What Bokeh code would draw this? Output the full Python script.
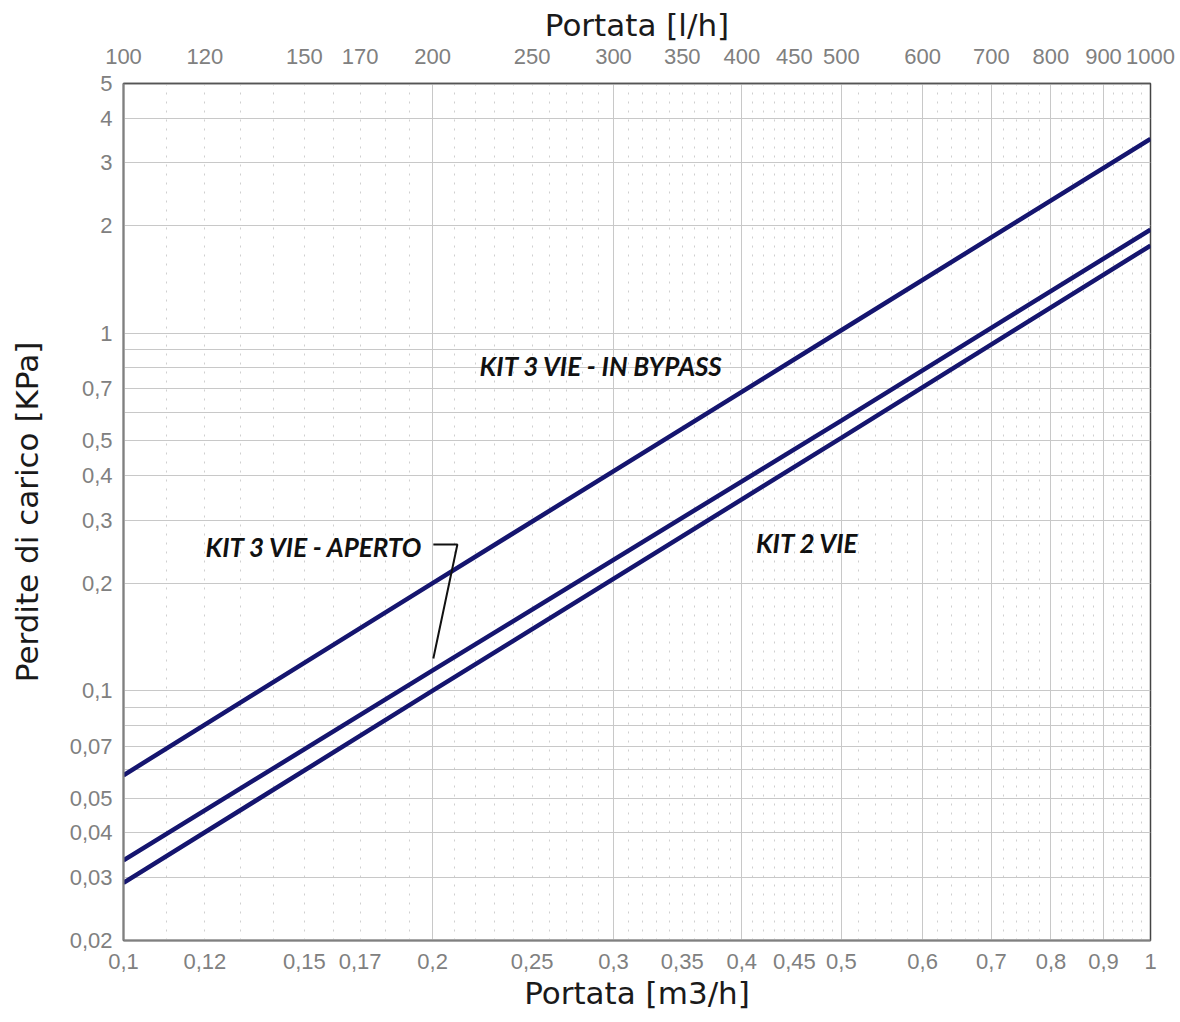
import numpy as np
from bokeh.plotting import figure
from bokeh.models import (LogAxis, FixedTicker, CustomJSTickFormatter, Range1d,
                          LogScale, Label)
from bokeh.embed import file_html
from bokeh.resources import INLINE

# ---- data ----
flow_m3h = [0.1, 0.2, 0.5, 1.0]
kit3_bypass = [0.058, 0.2, 1.02, 3.5]
kit3_aperto = [0.0335, 0.114, 0.57, 1.95]
kit2_vie = [0.029, 0.1, 0.51, 1.76]

x_ticks = [0.1, 0.12, 0.15, 0.17, 0.2, 0.25, 0.3, 0.35, 0.4, 0.45, 0.5,
           0.6, 0.7, 0.8, 0.9, 1]
top_ticks = [100, 120, 150, 170, 200, 250, 300, 350, 400, 450, 500,
             600, 700, 800, 900, 1000]
y_ticks = [0.02, 0.03, 0.04, 0.05, 0.07, 0.1, 0.2, 0.3, 0.4, 0.5, 0.7,
           1, 2, 3, 4, 5]

# grid positions
x_grid_major = [round(v, 2) for v in np.arange(0.2, 0.95, 0.1)]
x_grid_minor = [round(v, 2) for v in np.arange(0.11, 0.495, 0.01)
                if round(v * 100) % 10 != 0] + \
               [round(v, 2) for v in np.arange(0.52, 0.99, 0.02)
                if round(v * 100) % 10 != 0]
y_grid = [round(v, 3) for v in np.arange(0.02, 0.095, 0.01)] + \
         [round(v, 2) for v in np.arange(0.1, 0.95, 0.1)] + \
         [1, 2, 3, 4, 5]

TICK_FONT = "Liberation Sans"
TITLE_FONT = "DejaVu Sans"
LINE_COLOR = "#15156f"

p = figure(x_axis_type="log", y_axis_type="log",
           x_range=Range1d(0.1, 1), y_range=Range1d(0.02, 5),
           frame_width=1027, frame_height=857,
           min_border_left=123, min_border_right=28,
           min_border_top=83, min_border_bottom=80,
           output_backend="svg", toolbar_location=None,
           background_fill_color="white", border_fill_color="white")

bottom = p.below[0]
left = p.left[0]

p.extra_x_ranges = {"lh": Range1d(100, 1000)}
p.extra_x_scales = {"lh": LogScale()}
top = LogAxis(x_range_name="lh", axis_label="Portata [l/h]")
p.add_layout(top, "above")

fmt = "return tick.toString().replace('.', ',');"

bottom.ticker = FixedTicker(ticks=x_ticks)
top.ticker = FixedTicker(ticks=top_ticks)
left.ticker = FixedTicker(ticks=y_ticks)
bottom.axis_label = "Portata [m3/h]"
left.axis_label = "Perdite di carico [KPa]"

for ax in (bottom, top, left):
    ax.formatter = CustomJSTickFormatter(code=fmt)
    ax.major_tick_line_color = None
    ax.minor_tick_line_color = None
    ax.major_tick_out = 0
    ax.major_tick_in = 0
    ax.minor_tick_out = 0
    ax.minor_tick_in = 0
    ax.major_label_text_font = TICK_FONT
    ax.major_label_text_font_size = "22px"
    ax.major_label_text_color = "#808080"
    ax.axis_label_text_font = TITLE_FONT
    ax.axis_label_text_font_style = "normal"
    ax.axis_label_text_font_size = "31px"
    ax.axis_label_text_color = "#1a1a1a"

bottom.axis_line_color = "#808080"
bottom.axis_line_width = 2
left.axis_line_color = "#808080"
left.axis_line_width = 2
top.axis_line_color = "#555555"
top.axis_line_width = 1.5

bottom.major_label_standoff = 13
bottom.axis_label_standoff = 3
top.major_label_standoff = 20
top.axis_label_standoff = 3
left.major_label_standoff = 11
left.axis_label_standoff = 22

p.outline_line_color = "#444444"
p.outline_line_width = 1.5

p.xgrid.ticker = FixedTicker(ticks=x_grid_major, minor_ticks=x_grid_minor)
p.xgrid.grid_line_color = "#c8c8c8"
p.xgrid.grid_line_width = 1
p.xgrid.minor_grid_line_color = "#cfcfcf"
p.xgrid.minor_grid_line_dash = "2 7"
p.xgrid.minor_grid_line_width = 1
p.ygrid.ticker = FixedTicker(ticks=y_grid)
p.ygrid.grid_line_color = "#c8c8c8"
p.ygrid.grid_line_width = 1

for series in (kit3_bypass, kit3_aperto, kit2_vie):
    p.line(flow_m3h, series, line_color=LINE_COLOR, line_width=4.5)

# leader line for the "aperto" label
p.line([0.2003, 0.2114, 0.2003], [0.2565, 0.2565, 0.123],
       line_color="#111111", line_width=2)

ann_style = dict(text_font="Lato", text_font_style="bold italic",
                 text_font_size="26px", text_color="#111111",
                 text_align="center", text_baseline="middle")
p.add_layout(Label(x=0.292, y=0.812, text="KIT 3 VIE - IN BYPASS", **ann_style))
p.add_layout(Label(x=0.1535, y=0.2532, text="KIT 3 VIE - APERTO", **ann_style))
p.add_layout(Label(x=0.4634, y=0.2598, text="KIT 2 VIE", **ann_style))

open("out.html", "w").write(file_html(p, INLINE))
